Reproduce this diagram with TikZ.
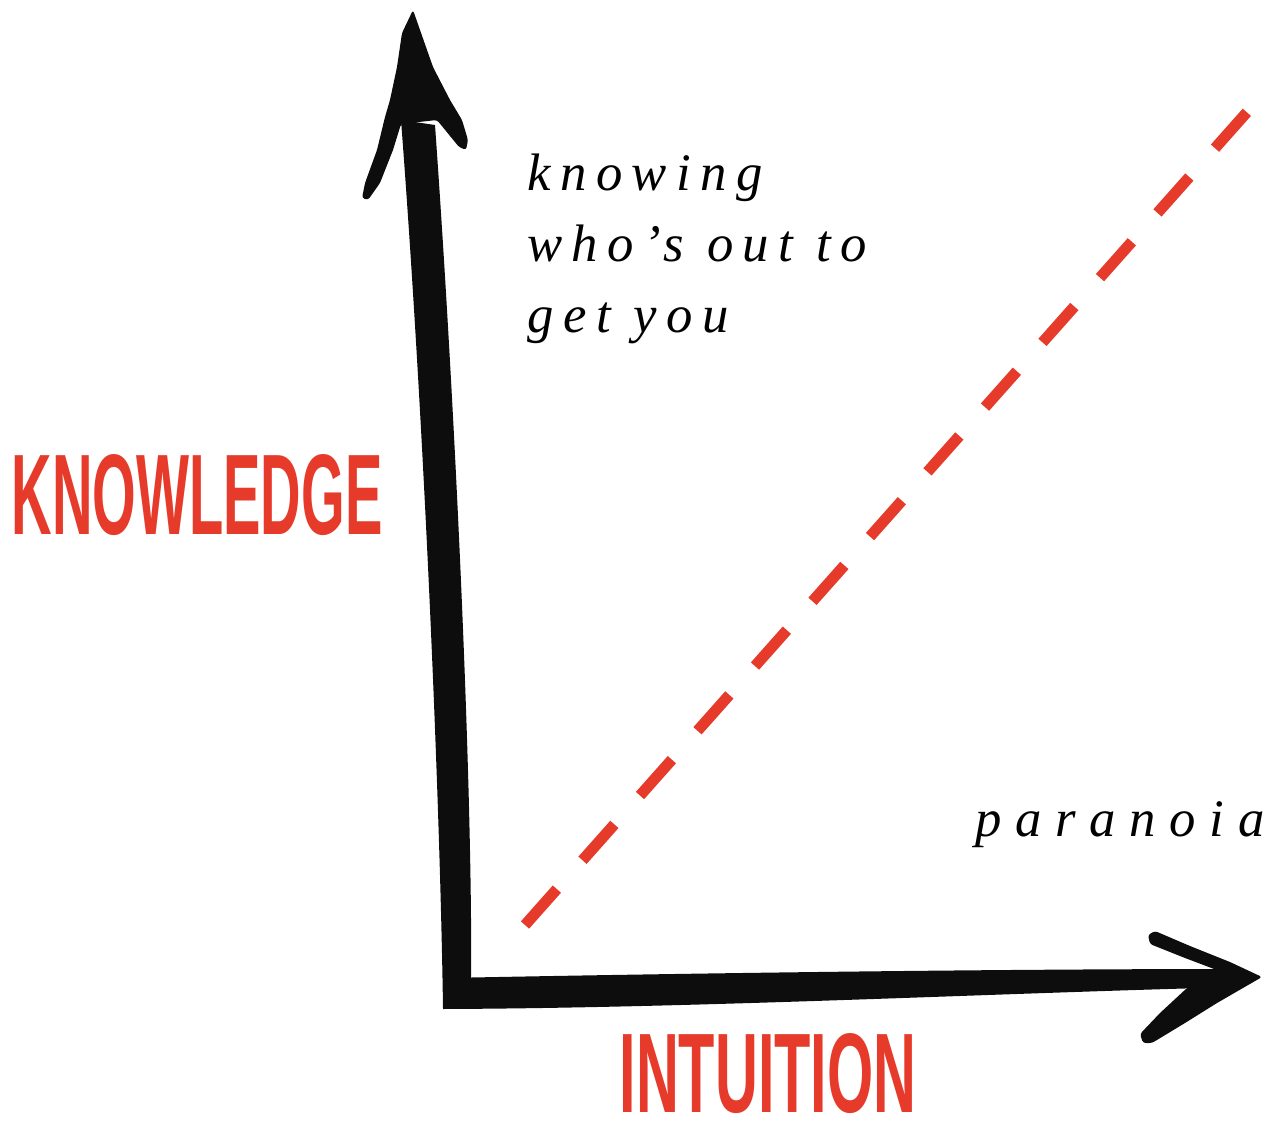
\documentclass[tikz,border=0pt]{standalone}
\usepackage{fontspec}
\usepackage{graphicx}
\usepackage{xcolor}
\setmainfont{Liberation Serif}
\newfontfamily\notefont[LetterSpace=18]{Liberation Serif}
\newfontfamily\axisfont{Liberation Sans}
\definecolor{axisred}{HTML}{E63B2A}
\tikzset{
  inkstroke/.style={fill=black!95},
  axislabel/.style={text=axisred, inner sep=0pt, font=\axisfont\bfseries},
  note/.style={font=\notefont\itshape\fontsize{30}{40.5}\selectfont, align=left, inner sep=0pt, anchor=base west},
  divider/.style={draw=axisred, line width=0.22cm, dash pattern=on 0.96cm off 0.772cm}
}
\newcommand{\axistext}[3]{\resizebox{#1}{#2}{#3}}

\begin{document}
\begin{tikzpicture}[x=0.02cm, y=-0.02cm]
    \useasboundingbox (0,0) rectangle (1275,1125);

    % Anchor points
    \coordinate (origin) at (457,993);
    \coordinate (ytip) at (413,10);
    \coordinate (xtip) at (1262,977);
    \coordinate (dstart) at (525,925);
    \coordinate (dend) at (1248,111);

    % Vertical axis (brush stroke)
    \fill[inkstroke] (443,1008) .. controls (440,800) and (424,420) .. (401,120)
        -- (435,125) .. controls (456,420) and (473,800) .. (471,985) -- cycle;
    \fill[inkstroke, rounded corners=1.5pt] (ytip) -- (433,67) -- (450,100) -- (462,120)
        -- (468,140) -- (466,150) -- (459,147) -- (437,120) -- (401,124) -- (393,150)
        -- (380,183) -- (368,200) -- (362,198) -- (365,183) -- (377,150) -- (385,117)
        -- (390,100) -- (397,67) -- (402,33) -- cycle;

    % Horizontal axis (brush stroke)
    \fill[inkstroke] (443,1009) -- (446,978) .. controls (700,973) and (1000,969) .. (1240,969)
        -- (1240,987) .. controls (1000,993) and (700,1008) .. (443,1009) -- cycle;
    \fill[inkstroke, rounded corners=1.5pt] (xtip) -- (1230,962) -- (1190,946) -- (1155,931)
        -- (1148,935) -- (1150,944) -- (1185,958) -- (1222,972) -- (1187,988) -- (1160,1013)
        -- (1140,1034) -- (1143,1043) -- (1152,1043) -- (1185,1023) -- (1217,1003) -- cycle;

    % Dashed divider
    \draw[divider] (dstart) -- (dend);

    % Axis labels
    \node[axislabel] (knowledge) at (197,495) {\axistext{7.42cm}{1.6cm}{KNOWLEDGE}};
    \node[axislabel] (intuition) at (768,1074) {\axistext{5.94cm}{1.58cm}{INTUITION}};

    % Region notes
    \node[note] (knowing) at (527,333) {knowing\\who’s out to\\get you};
    \node[note] (paranoia) at (975,836) {\addfontfeature{LetterSpace=26}paranoia};
\end{tikzpicture}
\end{document}
